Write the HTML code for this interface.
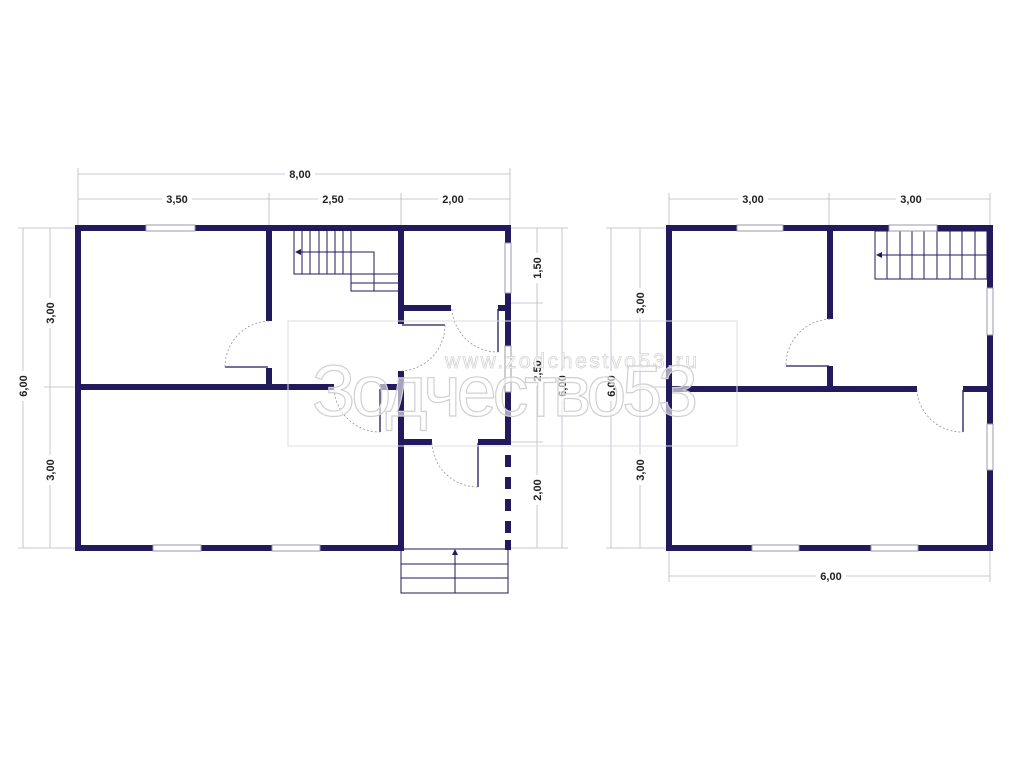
<!DOCTYPE html>
<html><head><meta charset="utf-8"><style>html,body{margin:0;padding:0;background:#fff}svg{display:block}</style></head>
<body>
<svg width="1024" height="768" viewBox="0 0 1024 768" xmlns="http://www.w3.org/2000/svg" font-family="Liberation Sans, sans-serif">
<rect width="1024" height="768" fill="#fff"/>
<!-- dimension lines -->
<g stroke="#b8b8c8" stroke-width="0.8" fill="none">
 <line x1="78" y1="174" x2="510" y2="174"/>
 <line x1="78" y1="199" x2="510" y2="199"/>
 <line x1="78" y1="168" x2="78" y2="226"/><line x1="510" y1="168" x2="510" y2="226"/>
 <line x1="269" y1="193" x2="269" y2="226"/><line x1="401" y1="193" x2="401" y2="226"/>
 <line x1="23" y1="228" x2="23" y2="548"/><line x1="50" y1="228" x2="50" y2="548"/>
 <line x1="18" y1="228" x2="76" y2="228"/><line x1="18" y1="548" x2="76" y2="548"/><line x1="44" y1="387" x2="76" y2="387"/>
 <line x1="537" y1="228" x2="537" y2="548"/><line x1="562" y1="228" x2="562" y2="548"/>
 <line x1="510" y1="228" x2="568" y2="228"/><line x1="510" y1="548" x2="568" y2="548"/>
 <line x1="510" y1="303" x2="543" y2="303"/><line x1="510" y1="442" x2="543" y2="442"/>
 <line x1="669" y1="199" x2="990" y2="199"/>
 <line x1="669" y1="193" x2="669" y2="226"/><line x1="829" y1="193" x2="829" y2="226"/><line x1="990" y1="193" x2="990" y2="226"/>
 <line x1="669" y1="576" x2="990" y2="576"/>
 <line x1="669" y1="550" x2="669" y2="582"/><line x1="990" y1="550" x2="990" y2="582"/>
 <line x1="611" y1="228" x2="611" y2="548"/><line x1="640" y1="228" x2="640" y2="548"/>
 <line x1="606" y1="228" x2="667" y2="228"/><line x1="606" y1="548" x2="667" y2="548"/><line x1="634" y1="387" x2="667" y2="387"/>
</g>
<g font-size="11" font-weight="bold" fill="#222" text-anchor="middle">
 <g fill="#222">
 <rect x="285" y="168" width="30" height="12" fill="#fff"/><text x="300" y="178">8,00</text>
 <rect x="162" y="193" width="30" height="12" fill="#fff"/><text x="177" y="203">3,50</text>
 <rect x="318" y="193" width="30" height="12" fill="#fff"/><text x="333" y="203">2,50</text>
 <rect x="438" y="193" width="30" height="12" fill="#fff"/><text x="453" y="203">2,00</text>
 <rect x="738" y="193" width="30" height="12" fill="#fff"/><text x="753" y="203">3,00</text>
 <rect x="896" y="193" width="30" height="12" fill="#fff"/><text x="911" y="203">3,00</text>
 <rect x="816" y="570" width="30" height="12" fill="#fff"/><text x="831" y="580">6,00</text>
 </g>
 <g>
 <rect x="17" y="371" width="12" height="30" fill="#fff"/><text transform="translate(27,386) rotate(-90)">6,00</text>
 <rect x="44" y="298" width="12" height="30" fill="#fff"/><text transform="translate(54,313) rotate(-90)">3,00</text>
 <rect x="44" y="455" width="12" height="30" fill="#fff"/><text transform="translate(54,470) rotate(-90)">3,00</text>
 <rect x="531" y="253" width="12" height="30" fill="#fff"/><text transform="translate(541,268) rotate(-90)">1,50</text>
 <rect x="531" y="356" width="12" height="30" fill="#fff"/><text transform="translate(541,371) rotate(-90)">2,50</text>
 <rect x="531" y="475" width="12" height="30" fill="#fff"/><text transform="translate(541,490) rotate(-90)">2,00</text>
 <rect x="556" y="371" width="12" height="30" fill="#fff"/><text transform="translate(566,386) rotate(-90)">6,00</text>
 <rect x="605" y="371" width="12" height="30" fill="#fff"/><text transform="translate(615,386) rotate(-90)">6,00</text>
 <rect x="634" y="288" width="12" height="30" fill="#fff"/><text transform="translate(644,303) rotate(-90)">3,00</text>
 <rect x="634" y="455" width="12" height="30" fill="#fff"/><text transform="translate(644,470) rotate(-90)">3,00</text>
 </g>
</g>
<!-- LEFT PLAN walls -->
<g fill="#231a5e">
 <rect x="75" y="225" width="436" height="6"/>
 <rect x="75" y="545" width="329" height="6"/>
 <rect x="75" y="225" width="6" height="326"/>
 <rect x="505" y="225" width="6" height="18"/>
 <rect x="505" y="293" width="6" height="53"/>
 <rect x="505" y="392" width="6" height="53"/>
 <rect x="505" y="455" width="6" height="12"/><rect x="505" y="477" width="6" height="12"/><rect x="505" y="499" width="6" height="12"/><rect x="505" y="521" width="6" height="12"/><rect x="505" y="540" width="6" height="10"/>
 <rect x="266" y="225" width="6" height="96"/>
 <rect x="266" y="368" width="6" height="21"/>
 <rect x="398" y="225" width="6" height="99"/>
 <rect x="398" y="371" width="6" height="180"/>
 <rect x="75" y="384" width="259" height="6"/>
 <rect x="380" y="384" width="22" height="6"/>
 <rect x="398" y="305" width="53" height="6"/>
 <rect x="498" y="305" width="10" height="6"/>
 <rect x="398" y="439" width="34" height="6"/>
 <rect x="478" y="439" width="30" height="6"/>
</g>
<!-- windows left -->
<g fill="#fff" stroke="#9a9ab0" stroke-width="1">
 <rect x="146" y="225" width="49" height="6"/>
 <rect x="153" y="545" width="48" height="6"/>
 <rect x="272" y="545" width="48" height="6"/>
 <rect x="505" y="243" width="6" height="50"/>
 <rect x="505" y="346" width="6" height="46"/>
</g>
<!-- doors left -->
<g stroke="#231a5e" stroke-width="1.3" fill="none">
 <line x1="225" y1="367" x2="268" y2="367"/>
 <line x1="380" y1="389" x2="380" y2="432"/>
 <line x1="402" y1="325" x2="445" y2="325"/>
 <line x1="498" y1="309" x2="498" y2="352"/>
 <line x1="478" y1="443" x2="478" y2="487"/>
</g>
<g stroke="#888" stroke-width="0.7" stroke-dasharray="2,2" fill="none">
 <path d="M269 321 A46 46 0 0 0 225 367"/>
 <path d="M334 389 A46 46 0 0 0 380 432"/>
 <path d="M445 325 A46 46 0 0 1 402 371"/>
 <path d="M452 309 A46 46 0 0 0 498 352"/>
 <path d="M432 443 A46 46 0 0 0 478 487"/>
</g>
<!-- stairs left -->
<g stroke="#231a5e" stroke-width="1" fill="none">
 <rect x="294" y="228" width="57" height="46"/>
 <line x1="302" y1="228" x2="302" y2="274"/><line x1="310" y1="228" x2="310" y2="274"/><line x1="319" y1="228" x2="319" y2="274"/><line x1="327" y1="228" x2="327" y2="274"/><line x1="335" y1="228" x2="335" y2="274"/><line x1="343" y1="228" x2="343" y2="274"/>
 <rect x="351" y="252" width="23" height="39"/>
 <line x1="351" y1="274" x2="399" y2="274"/><line x1="351" y1="283" x2="399" y2="283"/><line x1="351" y1="291" x2="399" y2="291"/>
 <line x1="298" y1="252" x2="374" y2="252"/>
 <rect x="401" y="549" width="107" height="44"/>
 <line x1="401" y1="564" x2="508" y2="564"/><line x1="401" y1="578" x2="508" y2="578"/>
 <line x1="455" y1="553" x2="455" y2="593"/>
 <line x1="877" y1="255" x2="988" y2="255"/>
 <rect x="875" y="231" width="112" height="48"/>
 <line x1="887" y1="231" x2="887" y2="279"/><line x1="900" y1="231" x2="900" y2="279"/><line x1="912" y1="231" x2="912" y2="279"/><line x1="924" y1="231" x2="924" y2="279"/><line x1="937" y1="231" x2="937" y2="279"/><line x1="950" y1="231" x2="950" y2="279"/><line x1="962" y1="231" x2="962" y2="279"/><line x1="975" y1="231" x2="975" y2="279"/>
</g>
<g fill="#231a5e">
 <path d="M295 252 L301 249 L301 255 Z"/>
 <path d="M455 549 L452 555 L458 555 Z"/>
 <path d="M876 255 L882 252 L882 258 Z"/>
</g>
<!-- RIGHT PLAN walls -->
<g fill="#231a5e">
 <rect x="666" y="225" width="327" height="6"/>
 <rect x="666" y="545" width="327" height="6"/>
 <rect x="666" y="225" width="6" height="326"/>
 <rect x="987" y="225" width="6" height="326"/>
 <rect x="827" y="225" width="6" height="94"/>
 <rect x="827" y="366" width="6" height="23"/>
 <rect x="666" y="386" width="251" height="6"/>
 <rect x="963" y="386" width="27" height="6"/>
</g>
<g fill="#fff" stroke="#9a9ab0" stroke-width="1">
 <rect x="737" y="225" width="46" height="6"/>
 <rect x="889" y="225" width="48" height="6"/>
 <rect x="752" y="545" width="47" height="6"/>
 <rect x="871" y="545" width="47" height="6"/>
 <rect x="987" y="288" width="6" height="47"/>
 <rect x="987" y="424" width="6" height="46"/>
</g>
<g stroke="#231a5e" stroke-width="1.3" fill="none">
 <line x1="786" y1="366" x2="829" y2="366"/>
 <line x1="963" y1="390" x2="963" y2="432"/>
</g>
<g stroke="#888" stroke-width="0.7" stroke-dasharray="2,2" fill="none">
 <path d="M830 319 A46 46 0 0 0 786 366"/>
 <path d="M917 390 A45 45 0 0 0 963 432"/>
</g>
<!-- watermark -->
<rect x="288" y="321" width="449" height="125" fill="none" stroke="#ddd" stroke-width="1"/>
<text x="571" y="368" font-size="21" text-anchor="middle" fill="#fff" stroke="#d4d4d4" stroke-width="0.8" textLength="252">www.zodchestvo53.ru</text>
<text x="505" y="416" font-size="72" text-anchor="middle" fill="#fff" fill-opacity="0.6" stroke="#d0d0d0" stroke-width="1.2" textLength="386" font-family="Liberation Sans, DejaVu Sans, sans-serif">Зодчество53</text>
</svg>
</body></html>
